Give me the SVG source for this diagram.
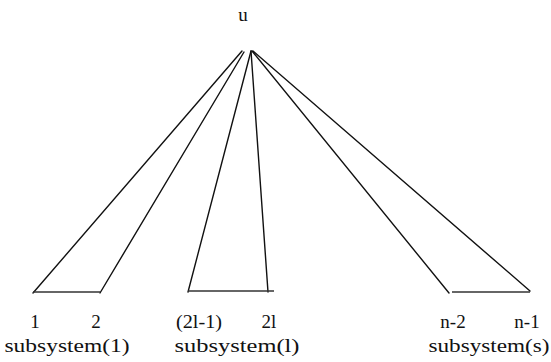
<svg xmlns="http://www.w3.org/2000/svg" width="551" height="362" viewBox="0 0 551 362">
<style>
.ln{stroke:#111;stroke-width:1.4;fill:none;stroke-linecap:round}
.base{stroke:#333;stroke-width:1.6;fill:none}
.t{font-family:"Liberation Serif","Times New Roman",serif;font-size:19px;fill:#111;text-anchor:middle}
</style>
<rect width="551" height="362" fill="#fff"/>
<g id="root"><text class="t" x="243" y="21" font-size="22">u</text></g>
<g id="connectors">
<line class="ln" x1="242" y1="51" x2="33" y2="293"/>
<line class="ln" x1="244" y1="52" x2="100" y2="293"/>
<line class="ln" x1="251" y1="51" x2="188" y2="292"/>
<line class="ln" x1="251" y1="51" x2="268" y2="292"/>
<line class="ln" x1="252" y1="51" x2="449" y2="293"/>
<line class="ln" x1="253" y1="51" x2="530" y2="291"/>
</g>
<g id="subsystem1">
<line class="base" x1="33" y1="292" x2="100" y2="292"/>
<text class="t" x="35" y="328">1</text>
<text class="t" x="96" y="328">2</text>
<text class="t" x="67" y="352" textLength="125" lengthAdjust="spacingAndGlyphs">subsystem(1)</text>
</g>
<g id="subsysteml">
<line class="base" x1="188" y1="291" x2="274" y2="291" stroke="#777"/>
<text class="t" x="199" y="328" textLength="46" lengthAdjust="spacingAndGlyphs">(2l-1)</text>
<text class="t" x="269" y="328">2l</text>
<text class="t" x="237" y="352" textLength="125" lengthAdjust="spacingAndGlyphs">subsystem(l)</text>
</g>
<g id="subsystems">
<line class="base" x1="452" y1="292" x2="530" y2="292"/>
<text class="t" x="453" y="328">n-2</text>
<text class="t" x="527" y="328">n-1</text>
<text class="t" x="489" y="352" textLength="121" lengthAdjust="spacingAndGlyphs">subsystem(s)</text>
</g>
</svg>
